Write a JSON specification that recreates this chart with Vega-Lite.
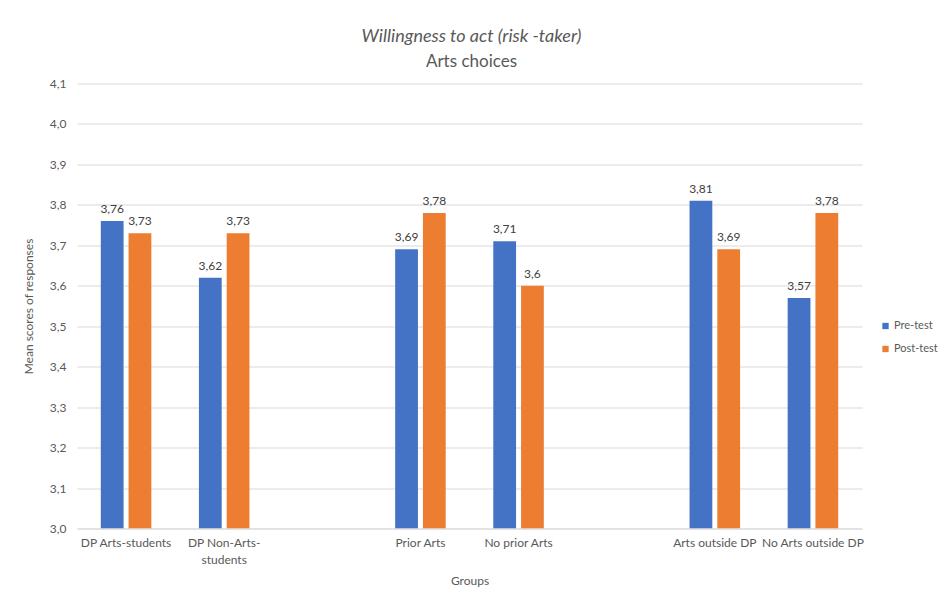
{
  "$schema": "https://vega.github.io/schema/vega-lite/v6.json",
  "width": 785,
  "height": 445,
  "autosize": {"type": "none"},
  "padding": {"left": 77, "top": 83.5, "right": 80, "bottom": 72.5},
  "background": "white",
  "title": {
    "text": "Willingness to act (risk -taker)",
    "subtitle": "Arts choices",
    "anchor": "middle",
    "frame": "group",
    "font": "Lato",
    "fontSize": 18,
    "fontStyle": "italic",
    "fontWeight": "normal",
    "color": "#595959",
    "subtitleFont": "Lato",
    "subtitleFontSize": 17,
    "subtitleFontStyle": "normal",
    "subtitleColor": "#595959",
    "subtitlePadding": 8,
    "offset": 8,
    "dx": 2
  },
  "data": {
    "values": [
      {"group": "DP Arts-students", "series": "Pre-test", "value": 3.76},
      {"group": "DP Arts-students", "series": "Post-test", "value": 3.73},
      {"group": "DP Non-Arts-students", "series": "Pre-test", "value": 3.62},
      {"group": "DP Non-Arts-students", "series": "Post-test", "value": 3.73},
      {"group": "Prior Arts", "series": "Pre-test", "value": 3.69},
      {"group": "Prior Arts", "series": "Post-test", "value": 3.78},
      {"group": "No prior Arts", "series": "Pre-test", "value": 3.71},
      {"group": "No prior Arts", "series": "Post-test", "value": 3.6},
      {"group": "Arts outside DP", "series": "Pre-test", "value": 3.81},
      {"group": "Arts outside DP", "series": "Post-test", "value": 3.69},
      {"group": "No Arts outside DP", "series": "Pre-test", "value": 3.57},
      {"group": "No Arts outside DP", "series": "Post-test", "value": 3.78}
    ]
  },
  "transform": [
    {"calculate": "replace(toString(datum.value), '.', ',')", "as": "lbl"}
  ],
  "encoding": {
    "x": {
      "field": "group",
      "type": "nominal",
      "sort": null,
      "scale": {
        "domain": ["DP Arts-students", "DP Non-Arts-students", " ", "Prior Arts", "No prior Arts", "  ", "Arts outside DP", "No Arts outside DP"],
        "paddingInner": 0.485,
        "paddingOuter": 0.2425
      },
      "axis": {
        "title": "Groups",
        "labelAngle": 0,
        "labelFont": "Lato",
        "labelFontSize": 12,
        "labelColor": "#595959",
        "labelPadding": 9,
        "labelOverlap": false,
        "labelLimit": 200,
        "labelLineHeight": 17,
        "labelExpr": "datum.value == 'DP Non-Arts-students' ? ['DP Non-Arts-', 'students'] : datum.value",
        "ticks": false,
        "domain": true,
        "domainColor": "#d9d9d9",
        "titleFont": "Lato",
        "titleFontSize": 12,
        "titleFontWeight": "normal",
        "titleColor": "#595959",
        "titlePadding": 10
      }
    },
    "xOffset": {
      "field": "series",
      "type": "nominal",
      "sort": ["Pre-test", "Post-test"],
      "scale": {"paddingInner": 0.18, "paddingOuter": 0}
    },
    "y": {
      "field": "value",
      "type": "quantitative",
      "scale": {"domain": [3.0, 4.1], "zero": false, "nice": false},
      "axis": {
        "title": "Mean scores of responses",
        "values": [3.0, 3.1, 3.2, 3.3, 3.4, 3.5, 3.6, 3.7, 3.8, 3.9, 4.0, 4.1],
        "labelExpr": "replace(format(datum.value, '.1f'), '.', ',')",
        "labelFont": "Lato",
        "labelFontSize": 12,
        "labelColor": "#595959",
        "labelPadding": 11,
        "ticks": false,
        "domain": false,
        "grid": true,
        "gridColor": "#d9d9d9",
        "titleFont": "Lato",
        "titleFontSize": 12,
        "titleFontWeight": "normal",
        "titleColor": "#595959",
        "titlePadding": 14
      }
    }
  },
  "layer": [
    {
      "mark": {"type": "bar", "clip": true},
      "encoding": {
        "y2": {"datum": 3.0},
        "color": {
          "field": "series",
          "type": "nominal",
          "scale": {"domain": ["Pre-test", "Post-test"], "range": ["#4472C4", "#ED7D31"]},
          "legend": {
            "title": null,
            "orient": "none",
            "legendX": 803,
            "legendY": 237,
            "padding": 0,
            "symbolType": "square",
            "symbolSize": 40,
            "symbolStrokeWidth": 0,
            "labelFont": "Lato",
            "labelFontSize": 11,
            "labelColor": "#595959",
            "labelOffset": 3,
            "rowPadding": 11
          }
        }
      }
    },
    {
      "mark": {"type": "text", "baseline": "bottom", "dy": -5, "font": "Lato", "fontSize": 12, "color": "#404040"},
      "encoding": {"text": {"field": "lbl"}}
    }
  ],
  "config": {
    "view": {"stroke": null},
    "font": "Lato"
  }
}
